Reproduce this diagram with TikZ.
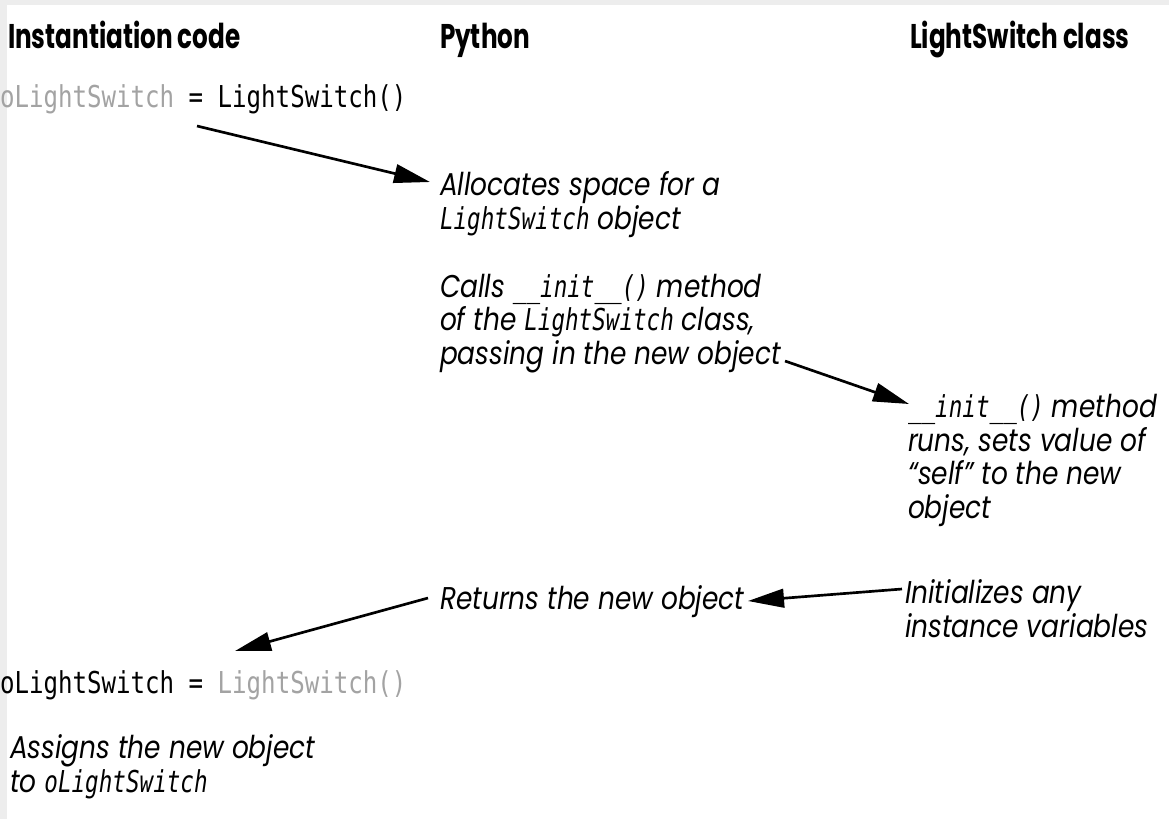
\documentclass[tikz,border=0pt]{standalone}
\usepackage{fontspec}
\usetikzlibrary{arrows.meta}
\newfontfamily\hdfont[FakeStretch=0.72]{Poppins}
\newfontfamily\txfont[FakeStretch=0.84]{Poppins}
\newfontfamily\cdfont[FakeStretch=0.80]{DejaVu Sans Mono}
\newfontfamily\cditfont[FakeStretch=0.75]{DejaVu Sans Mono}
\definecolor{codegray}{gray}{0.64}
\definecolor{pagegray}{gray}{0.93}
\newcommand{\mycode}[1]{{\cditfont\itshape\fontsize{22.6}{25.1}\selectfont #1}}
\begin{document}
\begin{tikzpicture}[x=0.75pt,y=-0.75pt,
  hd/.style={inner sep=0pt, outer sep=0pt, anchor=base west, font=\hdfont\bfseries\fontsize{25.7}{30}\selectfont},
  txt/.style={inner sep=0pt, outer sep=0pt, anchor=base west, align=left, font=\txfont\itshape\fontsize{23.6}{25.1}\selectfont},
  cd/.style={inner sep=0pt, outer sep=0pt, anchor=base west, font=\cdfont\fontsize{22.6}{26}\selectfont},
  arr/.style={line width=2pt, -{Triangle[length=27pt,width=14pt]}}]
\useasboundingbox (0,0) rectangle (1169,819);
\fill[white] (0,0) rectangle (1169,819);
\fill[pagegray] (0,0) rectangle (1169,5);
\fill[pagegray] (0,0) rectangle (7,819);
\node[hd] (h1) at (8,48.5) {Instantiation code};
\node[hd] (h2) at (440,48.5) {Python};
\node[hd] (h3) at (910,48.5) {LightSwitch class};
\node[cd] (c1) at (0,107) {\textcolor{codegray}{oLightSwitch} = LightSwitch()};
% multi-line nodes are placed at the baseline of their last line
\node[txt] (alloc) at (440,229) {Allocates space for a\\\mycode{LightSwitch} object};
\node[txt] (calls) at (440,364) {Calls \mycode{\_\_init\_\_()} method\\of the \mycode{LightSwitch} class,\\passing in the new object};
\node[txt] (init) at (908,518) {\mycode{\_\_init\_\_()} method\\runs, sets value of\\“self” to the new\\object};
\node[txt] (initv) at (905,637) {Initializes any\\instance variables};
\node[txt] (ret) at (440,609) {Returns the new object};
\node[cd] (c2) at (0,693) {oLightSwitch = \textcolor{codegray}{LightSwitch()}};
\node[txt] (assign) at (10,792) {Assigns the new object\\to \mycode{oLightSwitch}};
\coordinate (a1s) at (197,126);
\coordinate (a1e) at (430,182);
\coordinate (a2s) at (785,361);
\coordinate (a2e) at (909,404);
\coordinate (a3s) at (902,589);
\coordinate (a3e) at (748,601);
\coordinate (a4s) at (428,598);
\coordinate (a4e) at (235,651);
\draw[arr] (a1s) -- (a1e);
\draw[arr] (a2s) -- (a2e);
\draw[arr] (a3s) -- (a3e);
\draw[arr] (a4s) -- (a4e);
\end{tikzpicture}
\end{document}
